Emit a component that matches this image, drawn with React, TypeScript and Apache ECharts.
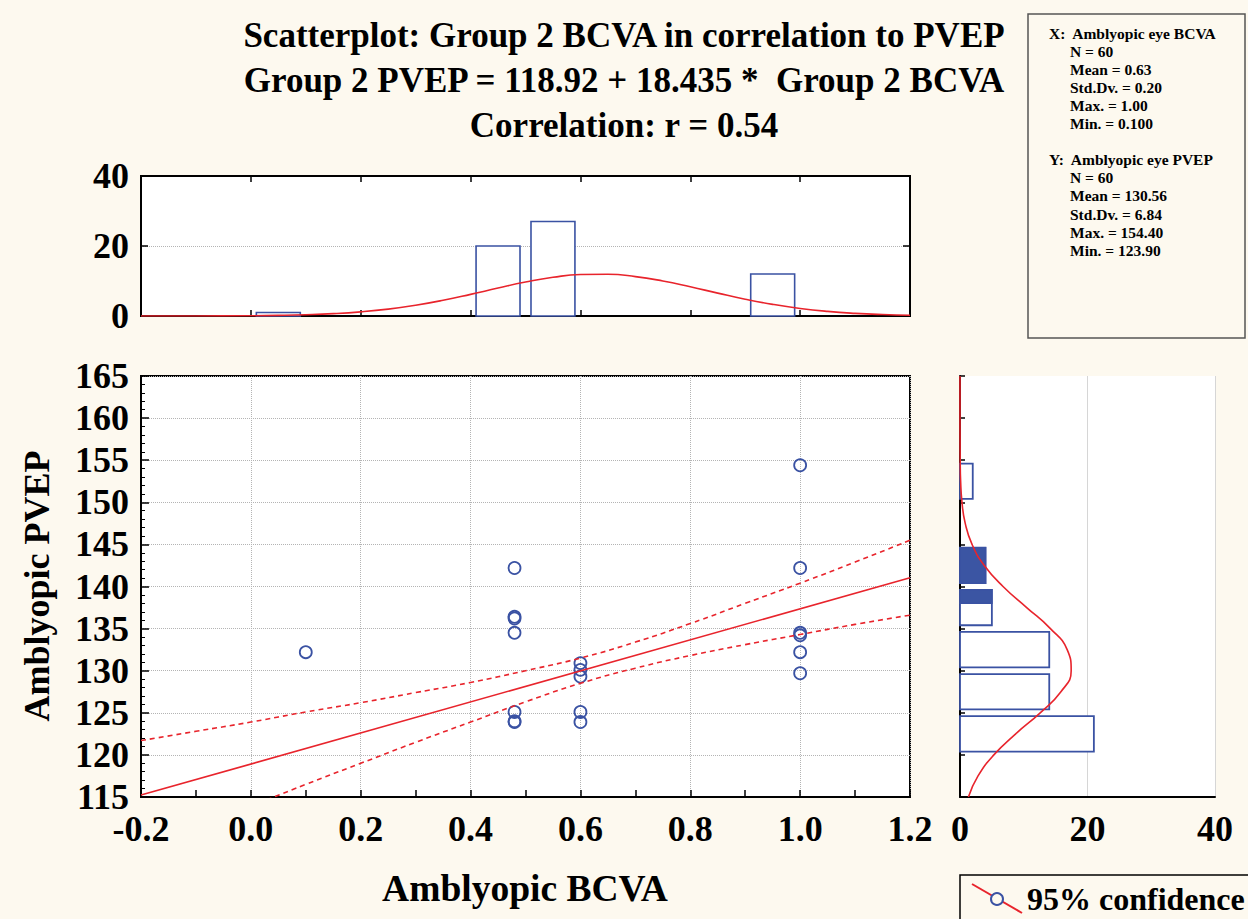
import React, { useEffect, useRef } from "react";
import * as echarts from "echarts";

// ---------- data ----------
const scatterX = [0.1, 0.48, 0.48, 0.48, 0.48, 0.48, 0.48, 0.48, 0.6, 0.6, 0.6, 0.6, 0.6, 1.0, 1.0, 1.0, 1.0, 1.0, 1.0];
const scatterY = [132.2, 142.2, 136.4, 136.2, 134.5, 125.1, 124.0, 123.9, 130.9, 130.1, 129.3, 125.1, 123.9, 154.4, 142.2, 134.5, 134.2, 132.2, 129.7];

const regX = [-0.2, 1.2];
const regY = [115.23, 141.04];

const bandX = [-0.2, -0.1, 0, 0.1, 0.2, 0.3, 0.4, 0.5, 0.6, 0.7, 0.8, 0.9, 1.0, 1.1, 1.2];
const bandUpper = [121.7, 122.8, 123.9, 125.1, 126.2, 127.4, 128.6, 130.0, 131.5, 133.4, 135.6, 138.0, 140.4, 142.9, 145.5];
const bandLower = [108.8, 111.3, 113.9, 116.5, 119.0, 121.5, 123.9, 126.3, 128.5, 130.3, 131.8, 133.1, 134.3, 135.5, 136.6];

const bcvaBinLo = [0.0, 0.4, 0.5, 0.9];
const bcvaBinHi = [0.1, 0.5, 0.6, 1.0];
const bcvaCounts = [1, 20, 27, 12];

const bcvaCurveX = [-0.2, -0.1, 0, 0.05, 0.1, 0.15, 0.2, 0.25, 0.3, 0.35, 0.4, 0.45, 0.5, 0.55, 0.6, 0.65, 0.7, 0.75, 0.8, 0.85, 0.9, 0.95, 1.0, 1.05, 1.1, 1.15, 1.2];
const bcvaCurveY = [0.0, 0.02, 0.08, 0.18, 0.36, 0.67, 1.19, 1.97, 3.07, 4.49, 6.18, 7.98, 9.69, 11.05, 11.84, 11.91, 11.26, 10.0, 8.34, 6.54, 4.81, 3.33, 2.16, 1.32, 0.76, 0.41, 0.21];

const pvepBinLo = [120, 125, 130, 135, 140, 150];
const pvepBinHi = [125, 130, 135, 140, 145, 155];
const pvepCounts = [21, 14, 14, 5, 4, 2];

const pvepShadeLo = [140.4, 138.0];
const pvepShadeHi = [144.6, 139.6];
const pvepShadeCount = [4, 5];

const pvepCurveY = [115, 117.5, 120, 122.5, 125, 127.5, 130, 132.5, 135, 137.5, 140, 142.5, 145, 147.5, 150, 152.5, 155, 157.5, 160, 165];
const pvepCurveCount = [1.32, 2.83, 5.31, 8.74, 12.58, 15.83, 17.44, 16.81, 14.18, 10.46, 6.75, 3.81, 1.89, 0.82, 0.31, 0.1, 0.03, 0.01, 0, 0];

const titleLines = [
  "Scatterplot: Group 2 BCVA in correlation to PVEP",
  "Group 2 PVEP = 118.92 + 18.435 *  Group 2 BCVA",
  "Correlation: r = 0.54",
];

const statsLines = [
  "X:  Amblyopic eye BCVA",
  "N = 60",
  "Mean = 0.63",
  "Std.Dv. = 0.20",
  "Max. = 1.00",
  "Min. = 0.100",
  "",
  "Y:  Amblyopic eye PVEP",
  "N = 60",
  "Mean = 130.56",
  "Std.Dv. = 6.84",
  "Max. = 154.40",
  "Min. = 123.90",
];

const xAxisName = "Amblyopic BCVA";
const yAxisName = "Amblyopic PVEP";
const legendText = "95% confidence";

// ---------- style ----------
const BG = "#FDF9EF";
const BLUE = "#3A52A3";
const RED = "#E8242C";
const SERIF = '"Liberation Serif", "Times New Roman", serif';

const labelFont = {
  fontFamily: SERIF,
  fontWeight: "bold" as const,
  fontSize: 36,
  color: "#000",
};

const axisLineBlack = { show: true, onZero: false, lineStyle: { color: "#000", width: 2 } };

function textEl(text: string, x: number, y: number, size: number, align = "center", extra: any = {}) {
  return {
    type: "text",
    x,
    y,
    silent: true,
    ...extra,
    style: {
      text,
      fill: "#000",
      fontFamily: SERIF,
      fontWeight: "bold",
      fontSize: size,
      align,
      textAlign: align,
      verticalAlign: "middle",
      textVerticalAlign: "middle",
    },
  };
}

export default function App() {
  const ref = useRef<HTMLDivElement>(null);

  useEffect(() => {
    document.body.style.margin = "0";
    if (!ref.current) return;
    const chart = echarts.init(ref.current, null, { renderer: "svg" });

    const inset1 = 0.01;
    const inset2 = 0.4;

    const option: any = {
      animation: false,
      backgroundColor: BG,
      grid: [
        { left: 141, top: 376, width: 769, height: 421, show: true, backgroundColor: "#fff", borderColor: "#000", borderWidth: 2 },
        { left: 141, top: 176, width: 769, height: 140, show: true, backgroundColor: "#fff", borderColor: "#000", borderWidth: 2 },
        { left: 960, top: 376, width: 255, height: 421, show: true, backgroundColor: "#fff", borderWidth: 0 },
      ],
      xAxis: [
        {
          gridIndex: 0, type: "value", min: -0.2, max: 1.2, interval: 0.2,
          axisLine: axisLineBlack,
          axisTick: { show: true, inside: true, length: 7, lineStyle: { color: "#000", width: 1.5 } },
          minorTick: { show: true, splitNumber: 2, length: 7, lineStyle: { color: "#000", width: 1.5 } },
          splitLine: { show: true, lineStyle: { type: "dotted", color: "#b4b4b4", width: 1 } },
          axisLabel: { ...labelFont, margin: 14, formatter: (v: number) => v.toFixed(1) },
        },
        {
          gridIndex: 1, type: "value", min: -0.2, max: 1.2, interval: 0.2,
          axisLine: axisLineBlack,
          axisTick: { show: true, inside: true, length: 6, lineStyle: { color: "#000", width: 1.5 } },
          splitLine: { show: false },
          axisLabel: { show: false },
        },
        {
          gridIndex: 1, type: "value", position: "top", min: -0.2, max: 1.2, interval: 0.2,
          axisLine: axisLineBlack,
          axisTick: { show: true, inside: true, length: 6, lineStyle: { color: "#000", width: 1.5 } },
          splitLine: { show: false },
          axisLabel: { show: false },
        },
        {
          gridIndex: 2, type: "value", min: 0, max: 40, interval: 20,
          axisLine: axisLineBlack,
          axisTick: { show: false },
          splitLine: { show: true, lineStyle: { type: "solid", color: "#d6d6d6", width: 1 } },
          axisLabel: { ...labelFont, margin: 14 },
        },
      ],
      yAxis: [
        {
          gridIndex: 0, type: "value", min: 115, max: 165, interval: 5,
          axisLine: axisLineBlack,
          axisTick: { show: true, inside: true, length: 8, lineStyle: { color: "#000", width: 1.5 } },
          minorTick: { show: true, splitNumber: 5, length: 4, lineStyle: { color: "#000", width: 1 } },
          splitLine: { show: true, lineStyle: { type: "dotted", color: "#b4b4b4", width: 1 } },
          axisLabel: { ...labelFont, margin: 12 },
        },
        {
          gridIndex: 1, type: "value", min: 0, max: 40, interval: 20,
          axisLine: axisLineBlack,
          axisTick: { show: true, inside: true, length: 7, lineStyle: { color: "#000", width: 1.5 } },
          splitLine: { show: true, lineStyle: { type: "dotted", color: "#b4b4b4", width: 1 } },
          axisLabel: { ...labelFont, margin: 12 },
        },
        {
          gridIndex: 1, type: "value", position: "right", min: 0, max: 40, interval: 20,
          axisLine: axisLineBlack,
          axisTick: { show: true, inside: true, length: 7, lineStyle: { color: "#000", width: 1.5 } },
          splitLine: { show: false },
          axisLabel: { show: false },
        },
        {
          gridIndex: 2, type: "value", min: 115, max: 165, interval: 5,
          axisLine: axisLineBlack,
          axisTick: { show: true, inside: true, length: 5, lineStyle: { color: "#000", width: 1.5 } },
          splitLine: { show: false },
          axisLabel: { show: false },
        },
      ],
      series: [
        // top histogram
        {
          type: "custom", xAxisIndex: 1, yAxisIndex: 1, silent: true,
          encode: { x: [0, 1], y: 2 },
          data: bcvaBinLo.map((lo, i) => [lo, bcvaBinHi[i], bcvaCounts[i]]),
          renderItem: (_p: any, api: any) => {
            const a = api.coord([api.value(0) + inset1, api.value(2)]);
            const b = api.coord([api.value(1) - inset1, 0]);
            return {
              type: "rect",
              shape: { x: a[0], y: a[1], width: b[0] - a[0], height: b[1] - a[1] },
              style: { fill: "#fff", stroke: BLUE, lineWidth: 1.6 },
            };
          },
        },
        {
          type: "line", xAxisIndex: 1, yAxisIndex: 1, silent: true, smooth: true,
          symbol: "none", showSymbol: false,
          lineStyle: { color: RED, width: 1.6 },
          data: bcvaCurveX.map((x, i) => [x, bcvaCurveY[i]]),
        },
        // right histogram
        {
          type: "custom", xAxisIndex: 3, yAxisIndex: 3, silent: true,
          encode: { x: 2, y: [0, 1] },
          data: pvepBinLo.map((lo, i) => [lo, pvepBinHi[i], pvepCounts[i]]),
          renderItem: (_p: any, api: any) => {
            const a = api.coord([0, api.value(1) - inset2]);
            const b = api.coord([api.value(2), api.value(0) + inset2]);
            return {
              type: "rect",
              shape: { x: a[0], y: a[1], width: b[0] - a[0], height: b[1] - a[1] },
              style: { fill: "#fff", stroke: BLUE, lineWidth: 1.8 },
            };
          },
        },
        {
          type: "custom", xAxisIndex: 3, yAxisIndex: 3, silent: true,
          encode: { x: 2, y: [0, 1] },
          data: pvepShadeLo.map((lo, i) => [lo, pvepShadeHi[i], pvepShadeCount[i]]),
          renderItem: (_p: any, api: any) => {
            const a = api.coord([0, api.value(1)]);
            const b = api.coord([api.value(2), api.value(0)]);
            return {
              type: "rect",
              shape: { x: a[0], y: a[1], width: b[0] - a[0], height: b[1] - a[1] },
              style: { fill: "#3B55A3", stroke: BLUE, lineWidth: 1.5 },
            };
          },
        },
        {
          type: "line", xAxisIndex: 3, yAxisIndex: 3, silent: true, smooth: true,
          symbol: "none", showSymbol: false,
          lineStyle: { color: RED, width: 1.6 },
          data: pvepCurveCount.map((c, i) => [c, pvepCurveY[i]]),
        },
        // main plot
        {
          type: "line", xAxisIndex: 0, yAxisIndex: 0, silent: true,
          symbol: "none", showSymbol: false,
          lineStyle: { color: RED, width: 1.6 },
          data: regX.map((x, i) => [x, regY[i]]),
        },
        {
          type: "line", xAxisIndex: 0, yAxisIndex: 0, silent: true, smooth: true,
          symbol: "none", showSymbol: false,
          lineStyle: { color: RED, width: 1.6, type: [5, 4] },
          data: bandX.map((x, i) => [x, bandUpper[i]]),
        },
        {
          type: "line", xAxisIndex: 0, yAxisIndex: 0, silent: true, smooth: true,
          symbol: "none", showSymbol: false,
          lineStyle: { color: RED, width: 1.6, type: [5, 4] },
          data: bandX.map((x, i) => [x, bandLower[i]]),
        },
        {
          type: "scatter", xAxisIndex: 0, yAxisIndex: 0, silent: true,
          symbol: "circle", symbolSize: 12,
          itemStyle: { color: "rgba(255,255,255,0)", borderColor: BLUE, borderWidth: 1.8, opacity: 1 },
          data: scatterX.map((x, i) => [x, scatterY[i]]),
        },
      ],
      graphic: [
        ...titleLines.map((t, i) => textEl(t, 624, 35 + i * 45, 35)),
        textEl(xAxisName, 525, 888, 37.5),
        textEl(yAxisName, 37, 586, 36, "center", { rotation: Math.PI / 2 }),
        {
          type: "rect", silent: true,
          shape: { x: 1028, y: 14, width: 217, height: 324 },
          style: { fill: "none", stroke: "#555", lineWidth: 1.5 },
        },
        ...statsLines.map((t, i) =>
          textEl(t, i === 0 || i === 7 ? 1049 : 1070, 33 + i * 18.1, 15.5, "left")
        ),
        {
          type: "rect", silent: true,
          shape: { x: 960, y: 875, width: 300, height: 60 },
          style: { fill: "none", stroke: "#000", lineWidth: 1.5 },
        },
        {
          type: "line", silent: true,
          shape: { x1: 972, y1: 884, x2: 1022, y2: 913 },
          style: { stroke: RED, lineWidth: 2 },
        },
        {
          type: "circle", silent: true,
          shape: { cx: 997, cy: 899, r: 6 },
          style: { fill: BG, stroke: BLUE, lineWidth: 2 },
        },
        textEl(legendText, 1027, 899, 32, "left"),
      ],
    };

    chart.setOption(option);
    return () => chart.dispose();
  }, []);

  return <div ref={ref} style={{ width: 1248, height: 919, background: BG }} />;
}
